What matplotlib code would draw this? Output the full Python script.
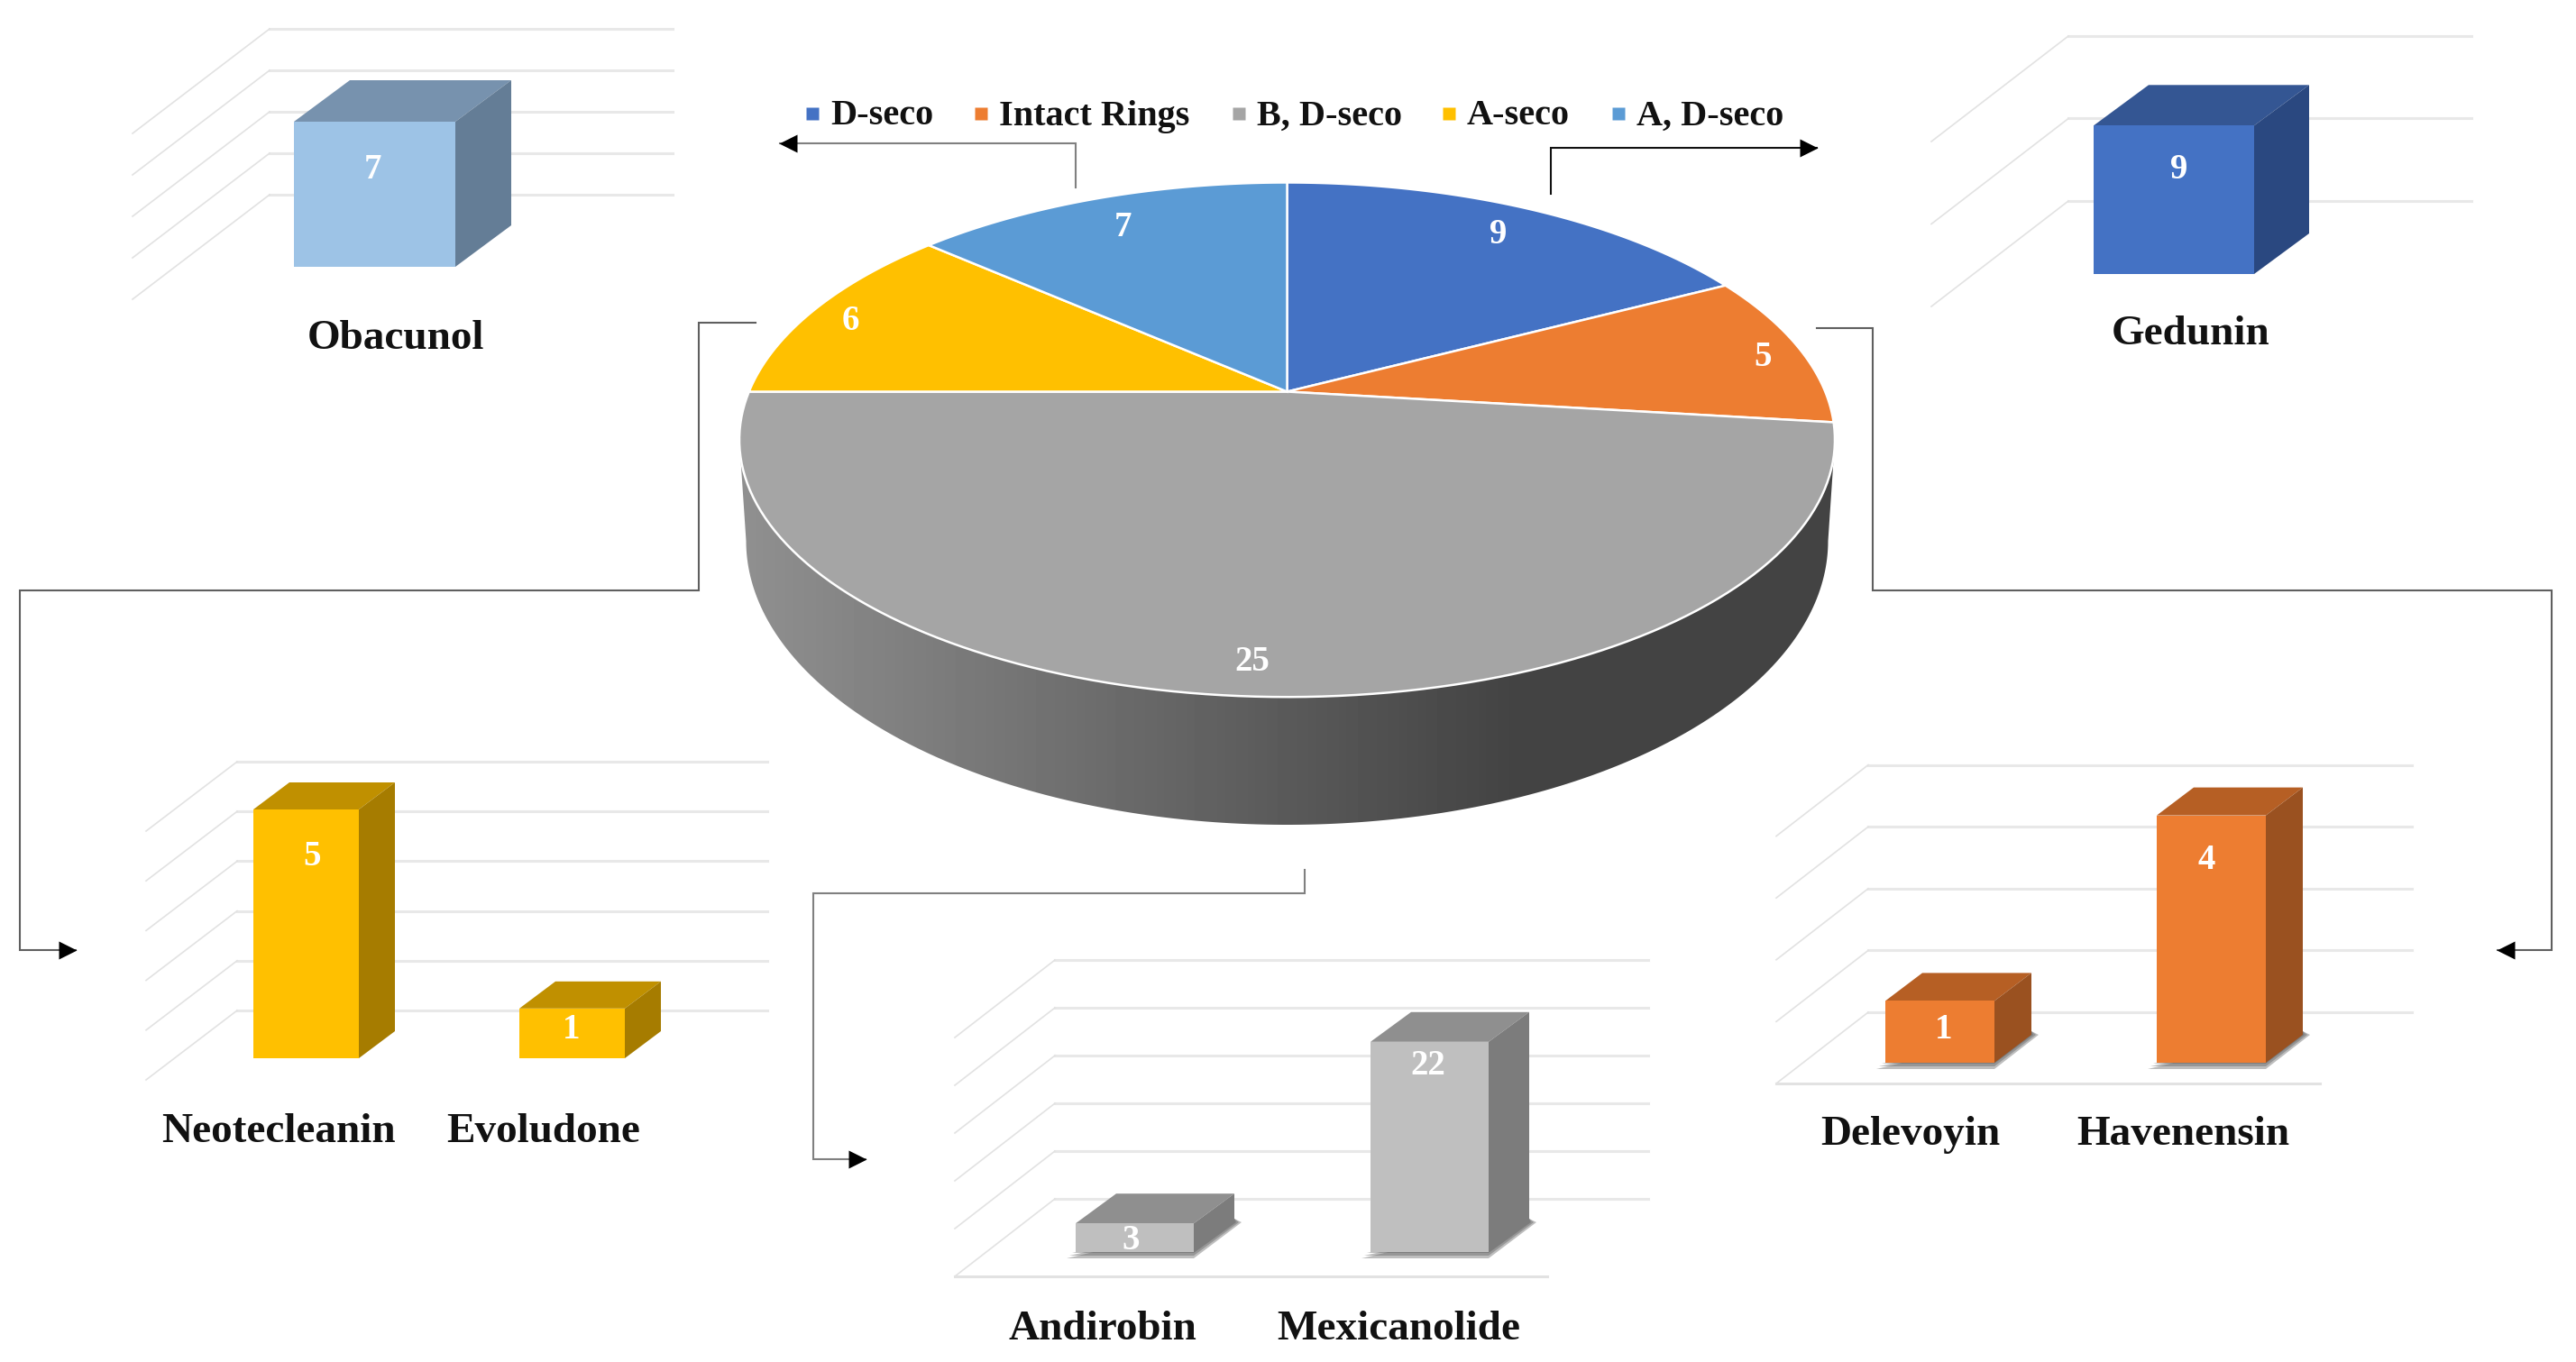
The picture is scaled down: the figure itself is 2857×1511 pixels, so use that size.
import numpy as np
import matplotlib
matplotlib.use('Agg')
import matplotlib.pyplot as plt
from matplotlib.patches import Polygon

plt.rcParams['font.family'] = ['Liberation Serif', 'DejaVu Serif']

W, H = 2857, 1511

# pie data
pie_names = ['D-seco', 'Intact Rings', 'B, D-seco', 'A-seco', 'A, D-seco']
pie_values = [9, 5, 25, 6, 7]
pie_colors = ['#4472C4', '#ED7D31', '#A5A5A5', '#FFC000', '#5B9BD5']

# bar panels
oba_names = ['Obacunol']
oba_values = [7]
oba_ticks = [0, 2, 4, 6, 8]

ged_names = ['Gedunin']
ged_values = [9]
ged_ticks = [0, 5, 10]

aseco_names = ['Neotecleanin', 'Evoludone']
aseco_values = [5, 1]
aseco_ticks = [0, 1, 2, 3, 4, 5]

intact_names = ['Delevoyin', 'Havenensin']
intact_values = [1, 4]
intact_ticks = [0, 1, 2, 3, 4]

bd_names = ['Andirobin', 'Mexicanolide']
bd_values = [3, 22]
bd_ticks = [0, 5, 10, 15, 20, 25]


def full_axes(fig, ylim):
    ax = fig.add_axes([0, 0, 1, 1])
    ax.set_xlim(0, W)
    ax.set_ylim(*ylim)
    ax.axis('off')
    return ax


def draw_pie(ax):
    cx, cy = 1427.5, 434.5
    a, b, k = 596.8, 275.4, 0.187

    def project(t):
        # t is clockwise from the top of the disc, seen in perspective
        u, v = np.sin(t), np.cos(t)
        return cx + a * u / (1 + k * v), cy - b * v / (1 + k * v)

    # side wall with a left to right shade
    t = np.linspace(np.pi, 0, 200)
    side = np.column_stack([cx + 600 * np.cos(t), 600 + 315 * np.sin(t)])
    side = np.vstack([[820, 488], side, [2035, 488]])
    patch = Polygon(side, closed=True, fc='none', ec='none')
    ax.add_patch(patch)
    xs = np.linspace(800, 2060, 300)
    shade = np.interp(xs, [830, 1675], [0.56, 0.265])
    im = ax.imshow(shade[None, :], cmap='gray', vmin=0, vmax=1, aspect='auto',
                   extent=[800, 2060, 930, 480], zorder=1)
    im.set_clip_path(patch)
    ax.set_xlim(0, W)
    ax.set_ylim(H, 0)

    edges = np.cumsum([0] + pie_values) / sum(pie_values) * 2 * np.pi
    for i, color in enumerate(pie_colors):
        t = np.linspace(edges[i], edges[i + 1], 120)
        x, y = project(t)
        ax.fill(np.r_[cx, x], np.r_[cy, y], fc=color, ec='white', lw=1.8, zorder=2)

    label_pos = [(1662, 257), (1955, 392), (1389, 730), (943, 352), (1246, 249)]
    for v, (x, y) in zip(pie_values, label_pos):
        ax.text(x, y + 4, str(v), color='white', fontsize=28, fontweight='bold',
                ha='center', va='center', zorder=3)


def draw_legend(ax):
    mark_x = [901, 1088, 1374, 1607, 1795]
    text_x = [921, 1108, 1394, 1627, 1815]
    for name, color, mx, tx in zip(pie_names, pie_colors, mark_x, text_x):
        ax.plot(mx, 126, marker='s', ms=9.5, mfc=color, mec='none')
        ax.text(tx, 129, name, fontsize=29, fontweight='bold', ha='left', va='center',
                color='#111111')


def draw_connector(ax, xs, ys, color='#5f5f5f', lw=1.5):
    ax.plot(xs, ys, color=color, lw=lw, solid_joinstyle='miter', zorder=0.5)
    direction = np.sign(xs[-1] - xs[-2])
    marker = '>' if direction > 0 else '<'
    ax.plot(xs[-1] - direction * 9, ys[-1], marker=marker, ms=15, mfc='black', mec='none',
            zorder=0.6)


def draw_panel(fig, names, values, ticks, base, scale, bar_x, bar_w, depth, grid_base,
               grid_x, diag, colors, floor=None, shadow=False):
    # y data of this axes is the chart value, base is the pixel row of value 0
    ax = full_axes(fig, ((base - H) / scale, base / scale))
    front, top, side = colors
    off = (base - grid_base) / scale

    for tick in ticks:
        y = tick + off
        ax.plot(grid_x, [y, y], color='#e8e8e8', lw=2.2, zorder=1)
        ax.plot([grid_x[0], grid_x[0] + diag[0]], [y, y - diag[1] / scale], color='#e2e2e2',
                lw=1.2, zorder=1)
    if floor is not None:
        y = off - diag[1] / scale
        ax.plot(floor, [y, y], color='#e2e2e2', lw=2.2, zorder=1)

    dx, dy = depth[0], depth[1] / scale
    for x, v in zip(bar_x, values):
        if shadow:
            # soft shadow at the foot of the bar, built from a few faint layers
            s = 1 / scale
            for grow in [8, 5, 2]:
                ax.add_patch(Polygon([(x - grow - 2, -(grow - 1) * s), (x + bar_w, -(grow - 1) * s),
                                      (x + bar_w + dx + grow, dy), (x + bar_w + dx, dy + 4 * s)],
                                     fc='#555555', ec='none', alpha=0.38, zorder=2))
        ax.add_patch(Polygon([(x, 0), (x + bar_w, 0), (x + bar_w, v), (x, v)],
                             fc=front, ec='none', zorder=4))
        ax.add_patch(Polygon([(x, v), (x + bar_w, v), (x + bar_w + dx, v + dy), (x + dx, v + dy)],
                             fc=top, ec='none', zorder=3))
        ax.add_patch(Polygon([(x + bar_w, 0), (x + bar_w + dx, dy), (x + bar_w + dx, v + dy),
                              (x + bar_w, v)], fc=side, ec='none', zorder=3))
    return ax


def put_labels(ax, names, values, name_pos, value_pos):
    for name, (x, y) in zip(names, name_pos):
        ax.text(x, y + 4, name, fontsize=34, fontweight='bold', ha='center', va='center',
                color='#111111', zorder=6)
    for v, (x, y) in zip(values, value_pos):
        ax.text(x, y + 4, str(v), fontsize=28, fontweight='bold', ha='center', va='center',
                color='white', zorder=6)


fig = plt.figure(figsize=(W / 100, H / 100), dpi=100, facecolor='white')
ax = full_axes(fig, (H, 0))

draw_pie(ax)
draw_legend(ax)

draw_connector(ax, [1193, 1193, 865], [208, 159, 159], color='#808080')
draw_connector(ax, [1720, 1720, 2015], [215, 164, 164], color='#111111')
draw_connector(ax, [2015, 2077, 2077, 2830, 2830, 2770], [364, 364, 655, 655, 1054, 1054])
draw_connector(ax, [838, 775, 775, 22, 22, 84], [358, 358, 655, 655, 1054, 1054])
draw_connector(ax, [1447, 1447, 902, 902, 960], [965, 991, 991, 1286, 1286], color='#808080')

draw_panel(fig, oba_names, oba_values, oba_ticks, 296, 23.0, [326], 179, (62, 46), 216,
           [299, 746], (-152, 116), ('#9DC3E6', '#7792AE', '#647D96'))
draw_panel(fig, ged_names, ged_values, ged_ticks, 304, 18.3, [2322], 178, (61, 45), 223,
           [2294, 2741], (-152, 117), ('#4472C4', '#345693', '#2A4880'))
draw_panel(fig, aseco_names, aseco_values, aseco_ticks, 1174, 55.2, [281, 576], 117, (40, 30),
           1121, [263, 851], (-101, 77), ('#FFC000', '#C09000', '#A67C00'))
draw_panel(fig, intact_names, intact_values, intact_ticks, 1179, 68.6, [2091, 2392], 121,
           (41, 31), 1123, [2072, 2675], (-102, 79), ('#ED7D31', '#B65F24', '#9A5120'),
           floor=[1970, 2573], shadow=True)
draw_panel(fig, bd_names, bd_values, bd_ticks, 1389, 10.6, [1193, 1520], 131, (45, 33), 1330,
           [1170, 1828], (-111, 86), ('#BFBFBF', '#8F8F8F', '#7C7C7C'),
           floor=[1059, 1716], shadow=True)

# labels go on a last axes so that they stay above the bars
top_ax = full_axes(fig, (H, 0))
put_labels(top_ax, oba_names, oba_values, [(439, 372)], [(414, 184)])
put_labels(top_ax, ged_names, ged_values, [(2430, 367)], [(2417, 185)])
put_labels(top_ax, aseco_names, aseco_values, [(309, 1252), (603, 1252)], [(346, 947), (634, 1138)])
put_labels(top_ax, intact_names, intact_values, [(2119, 1255), (2421, 1255)], [(2156, 1138), (2447, 950)])
put_labels(top_ax, bd_names, bd_values, [(1223, 1471), (1551, 1471)], [(1254, 1373), (1584, 1179)])

fig.savefig('out.png', dpi=100)
